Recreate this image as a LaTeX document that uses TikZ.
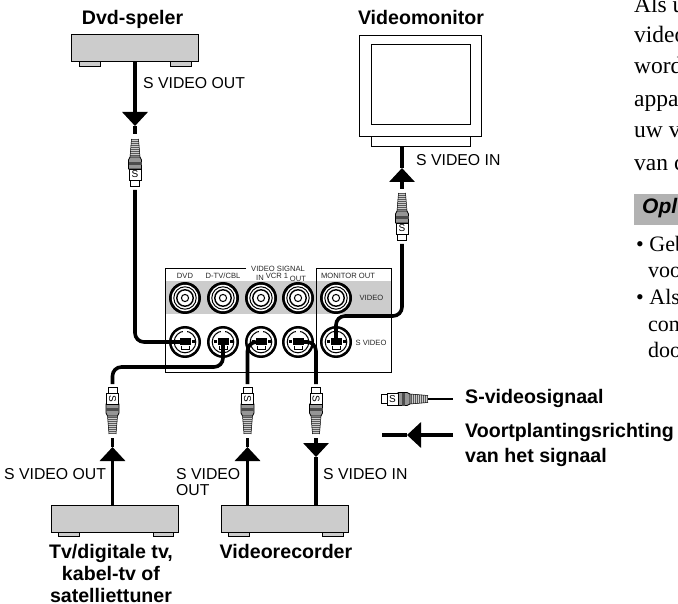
\documentclass[tikz,border=0pt]{standalone}
\usepackage{fontspec}
\setmainfont{Liberation Sans}
\newfontfamily\serifbody{Liberation Serif}
\usepackage{xcolor}
\usetikzlibrary{arrows.meta}
\definecolor{DevGray}{RGB}{204, 204, 204}
\definecolor{NoteGray}{RGB}{178, 178, 178}
\definecolor{PlugGray}{RGB}{150, 150, 150}
\tikzset{
  devbox/.style={draw=black, fill=DevGray, line width=1pt, inner sep=0pt, minimum width=127pt, minimum height=27pt},
  devfoot/.style={draw=black, fill=DevGray, line width=0.9pt},
  monbox/.style={draw=black, fill=white, line width=1pt, inner sep=0pt},
  cable/.style={draw=black, line width=3.6pt},
  sigtip/.style={-{Triangle[length=14pt,width=25pt]}},
  sigtxt/.style={inner sep=0pt, anchor=base west, font=\fontsize{15.8}{16}\selectfont},
  devtxt/.style={inner sep=0pt, anchor=base, align=center, font=\fontsize{19.6}{22}\selectfont\bfseries},
  legtxt/.style={devtxt, anchor=base west, align=left},
  pantxt/.style={inner sep=0pt, text=black!85, font=\fontsize{7.6}{8}\selectfont},
  bodytxt/.style={inner sep=0pt, anchor=base west, font=\fontsize{23.5}{24}\selectfont\serifbody},
  notetxt/.style={inner sep=0pt, anchor=base west, font=\fontsize{22}{24}\selectfont\serifbody},
  pics/splug/.style={code={
    \begin{scope}
      \clip (-3.5,0) -- (3.5,0) -- (5,18) -- (-5,18) -- cycle;
      \fill[DevGray] (-6,0) rectangle (6,18);
      \draw[black!65, line width=10pt, dash pattern=on 1pt off 1pt] (0,0) -- (0,18);
    \end{scope}
    \draw[black, line width=0.5pt] (-3.5,0) -- (-5,18) (3.5,0) -- (5,18);
    \draw[black, fill=PlugGray, line width=0.7pt] (-5,18) -- (5,18) -- (6.5,21) -- (6.5,30) -- (-6.5,30) -- (-6.5,21) -- cycle;
    \fill[black!70] (-6.5,23) rectangle (6.5,26);
    \draw[black, fill=white, line width=0.7pt] (-6,30) rectangle (6,41);
    \draw[black, fill=white, line width=0.7pt] (-4.5,41) rectangle (4.5,47);
    \node[inner sep=0pt, rotate=#1, transform shape, font=\fontsize{10}{10}\selectfont] (plugS) at (0,35.5) {S};
  }},
  pics/videojack/.style={code={
    \fill[black] (0,0) circle (16);
    \fill[white] (0,0) circle (13.2);
    \draw[black, line width=1pt] (0,0) circle (11.2);
    \draw[black, line width=1.4pt] (0,0) circle (8.2);
    \draw[black, line width=1pt] (0,0) circle (3.6);
  }},
  pics/sjack/.style={code={
    \fill[black] (0,0) circle (16);
    \fill[white] (0,0) circle (13.4);
    \draw[black, line width=1pt] (0,0) circle (10.8);
    \fill[black] (-5.5,-3.5) rectangle (5.5,3);
    \fill[white] (-2,-11.5) rectangle (2,-8);
    \fill[black] (-9.5,-2) rectangle (-6.5,1.5);
    \fill[black] (6.5,-2) rectangle (9.5,1.5);
    \draw[black, line width=1pt] (-4,4) -- (-4,8) -- (4,8) -- (4,4);
  }}
}

\begin{document}
\begin{tikzpicture}[x=1pt,y=-1pt]
  \useasboundingbox (0,0) rectangle (678,604);

  % Dvd-speler
  \node[devtxt] (dvdtitle) at (132.5,25) {Dvd-speler};
  \draw[devfoot] (79,60) rectangle (100,66);
  \draw[devfoot] (170,60) rectangle (191,66);
  \node[devbox] (dvdbox) at (135,48.5) {};
  \node[sigtxt] (dvdlabel) at (143,89) {S VIDEO OUT};

  % Videomonitor
  \node[devtxt] (montitle) at (421,25) {Videomonitor};
  \node[monbox, minimum width=99pt, minimum height=12pt] (monbase) at (420.5,141) {};
  \node[monbox, minimum width=122pt, minimum height=101pt] (monbox) at (420,86.5) {};
  \node[monbox, minimum width=99pt, minimum height=80pt] (monscreen) at (420.5,85) {};
  \node[sigtxt] (monlabel) at (416,166) {S VIDEO IN};

  % Panel
  \fill[DevGray] (165,281) rectangle (391,314);
  \draw[black, line width=1pt] (246,269) -- (165,269) -- (165,372) -- (391,372) -- (391,269) -- (316,269) -- (316,372);
  \node[pantxt] (pandvd) at (185,276) {DVD};
  \node[pantxt] (pantv) at (223,276) {D-TV/CBL};
  \node[pantxt] (pansignal) at (278,269) {VIDEO SIGNAL};
  \node[pantxt] (panin) at (260,278) {IN};
  \node[pantxt] (panvcr) at (277,276) {VCR 1};
  \node[pantxt] (panout) at (298,279) {OUT};
  \node[pantxt] (panmon) at (348,276) {MONITOR OUT};
  \node[pantxt] (panvideo) at (371.5,298) {VIDEO};
  \node[pantxt] (pansvideo) at (371,343) {S VIDEO};

  \pic at (185,298) {videojack};
  \pic at (223,298) {videojack};
  \pic at (261,298) {videojack};
  \pic at (298,298) {videojack};
  \pic at (336,298) {videojack};
  \coordinate (jackDvd) at (185,342);
  \coordinate (jackTv) at (223,342);
  \coordinate (jackIn) at (261,342);
  \coordinate (jackOut) at (298,342);
  \coordinate (jackMon) at (336,342);
  \pic at (jackDvd) {sjack};
  \pic at (jackTv) {sjack};
  \pic at (jackIn) {sjack};
  \pic at (jackOut) {sjack};
  \pic at (jackMon) {sjack};

  % Tv/digitale tv
  \draw[devfoot] (58,531) rectangle (79,536);
  \draw[devfoot] (153,531) rectangle (173,536);
  \node[devbox] (tvbox) at (114.5,519) {};
  \node[devtxt] (tvtitle) at (111,602) {Tv/digitale tv,\\kabel-tv of\\satelliettuner};
  \node[sigtxt] (tvlabel) at (4,479) {S VIDEO OUT};

  % Videorecorder
  \draw[devfoot] (228,531) rectangle (249,536);
  \draw[devfoot] (322,531) rectangle (343,536);
  \node[devbox] (vcrbox) at (284.5,519) {};
  \node[devtxt] (vcrtitle) at (286,558) {Videorecorder};
  \node[sigtxt] (vcrlabela) at (176,479) {S VIDEO};
  \node[sigtxt] (vcrlabelb) at (176,495) {OUT};
  \node[sigtxt] (vcrlabelc) at (323,479) {S VIDEO IN};

  % Dvd cable
  \coordinate (dvdTip) at (135,126);
  \coordinate (dvdGap) at (135,134);
  \coordinate (dvdEnd) at (135,190);
  \draw[cable, sigtip] (dvdbox.south) -- (dvdTip);
  \draw[cable] (dvdTip) -- (dvdGap);
  \pic at (135,139) {splug=0};
  \draw[cable, rounded corners=9pt] (dvdEnd) |- (jackDvd);

  % Monitor cable
  \coordinate (monTip) at (402,168);
  \coordinate (monGap) at (402,189);
  \coordinate (monEnd) at (402,244);
  \coordinate (monBend) at (336,316);
  \draw[cable] (monbase.south -| monTip) -- (monTip);
  \draw[cable, sigtip] (monGap) -- (monTip);
  \pic at (402,193) {splug=0};
  \draw[cable, rounded corners=9pt] (monEnd) |- (monBend) -- (jackMon);

  % Tv cable
  \coordinate (tvTip) at (112.5,447);
  \coordinate (tvGap) at (112.5,438);
  \coordinate (tvEnd) at (112.5,384);
  \coordinate (tvBend) at (222,367);
  \draw[cable, sigtip] (tvbox.north -| tvTip) -- (tvTip);
  \draw[cable] (tvTip) -- (tvGap);
  \pic[rotate=180] at (112.5,434) {splug=90};
  \draw[cable, rounded corners=9pt] (jackTv) |- (tvEnd |- tvBend) -- (tvEnd);

  % Recorder cables
  \coordinate (outTip) at (247.5,447);
  \coordinate (outGap) at (247.5,438);
  \coordinate (outEnd) at (247.5,384);
  \draw[cable, sigtip] (vcrbox.north -| outTip) -- (outTip);
  \draw[cable] (outTip) -- (outGap);
  \pic[rotate=180] at (247.5,434) {splug=90};
  \draw[cable, rounded corners=9pt] (outEnd) |- (jackIn);
  \coordinate (inTip) at (316,457);
  \coordinate (inGap) at (316,438);
  \coordinate (inEnd) at (316,384);
  \draw[cable, sigtip] (inGap) -- (inTip);
  \draw[cable] (inTip) -- (vcrbox.north -| inTip);
  \pic[rotate=180] at (316,434) {splug=90};
  \draw[cable, rounded corners=9pt] (inEnd) |- (jackOut);

  % Legend
  \coordinate (legPlug) at (428,399);
  \coordinate (legFree) at (453,399);
  \coordinate (legStart) at (453,435);
  \coordinate (legTip) at (407,435);
  \coordinate (legEnd) at (382,435);
  \pic[rotate=-90] at (legPlug) {splug=90};
  \draw[black, line width=1.6pt] (legPlug) -- (legFree);
  \draw[cable, sigtip] (legStart) -- (legTip);
  \draw[cable] (legTip) -- (legEnd);
  \node[legtxt] (legplugtxt) at (465,403) {S-videosignaal};
  \node[legtxt] (legdirtxt) at (465,462) {Voortplantingsrichting\\[3pt]van het signaal};

  % Cut-off page text
  \node[bodytxt] (bodya) at (634,13) {Als u};
  \node[bodytxt] (bodyb) at (634,43) {video};
  \node[bodytxt] (bodyc) at (634,74) {word};
  \node[bodytxt] (bodyd) at (634,107) {appa};
  \node[bodytxt] (bodye) at (634,138) {uw v};
  \node[bodytxt] (bodyf) at (634,171) {van c};
  \fill[NoteGray] (634,194) rectangle (678,225);
  \node[inner sep=0pt, anchor=base west, font=\fontsize{21}{22}\selectfont\bfseries\itshape] (notehead) at (642,214) {Opl};
  \node[notetxt] (notea) at (636,252) {• Geb};
  \node[notetxt] (noteb) at (648,278) {voo};
  \node[notetxt] (notec) at (636,305) {• Als};
  \node[notetxt] (noted) at (648,331) {con};
  \node[notetxt] (notee) at (648,358) {doo};
\end{tikzpicture}
\end{document}
